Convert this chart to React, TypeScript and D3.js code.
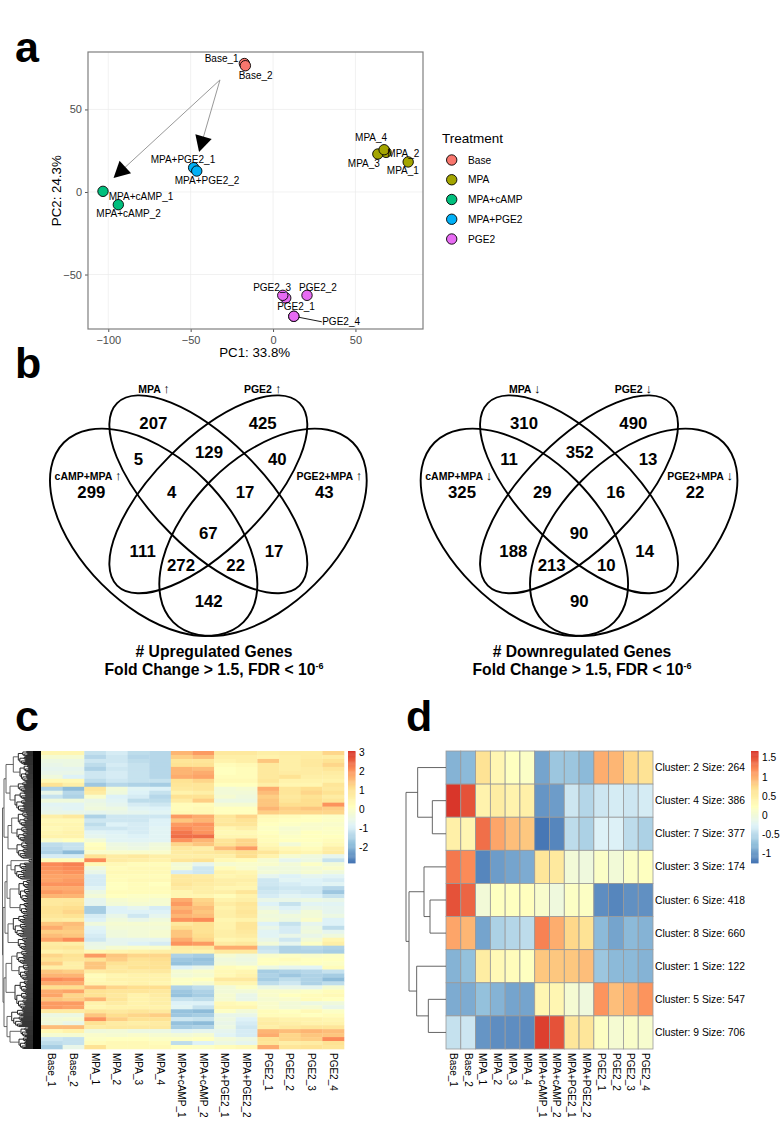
import React, { useEffect, useRef } from 'react';
import * as d3 from 'd3';

const FONT = '"Liberation Sans", Arial, sans-serif';

// panel a: PCA
const sampleNames = ['Base_1', 'Base_2', 'MPA_1', 'MPA_2', 'MPA_3', 'MPA_4', 'MPA+cAMP_1', 'MPA+cAMP_2', 'MPA+PGE2_1', 'MPA+PGE2_2', 'PGE2_1', 'PGE2_2', 'PGE2_3', 'PGE2_4'];
const pc1 = [-17.4, -16.8, 82, 68.6, 63.6, 67.4, -103.2, -93.9, -48.2, -46.3, 7.7, 20.6, 5.9, 12.6];
const pc2 = [77.8, 76.5, 18.2, 24, 23, 25.6, 0.4, -7.7, 14.7, 12.7, -64.2, -62.6, -62.6, -75.3];
const sampleGroup = [0, 0, 1, 1, 1, 1, 2, 2, 3, 3, 4, 4, 4, 4];
const labelDx = [-22.7, 10.3, -5.3, 17.3, -14, -13, 38, 10.3, -10.7, 10.3, 10.3, 11, -10.7, 47.3];
const labelDy = [-4.7, 9.3, 9, 0.7, 9.3, -12, 4.7, 9, -8.7, 9.3, 9, -8.3, -8.3, 5.7];
const treatments = ['Base', 'MPA', 'MPA+cAMP', 'MPA+PGE2', 'PGE2'];
const treatmentColors = ['#F8766D', '#A3A500', '#00BF7D', '#00B0F6', '#E76BF3'];
const pcXTicks = [-100, -50, 0, 50];
const pcYTicks = [-50, 0, 50];
const arrowFrom = [-32.2, 67.9];
const arrowTips = [[-96.8, 8.5], [-44.9, 24.2]];

// panel b: venn, count order is the same for both diagrams
const vennUp = [207, 425, 299, 5, 129, 40, 43, 4, 17, 67, 111, 17, 272, 22, 142];
const vennDown = [310, 490, 325, 11, 352, 13, 22, 29, 16, 90, 188, 14, 213, 10, 90];
const vennCountX = [400, 728, 214, 355, 567, 772, 913, 455, 675, 565, 368, 762, 483, 647, 566];
const vennCountY = [158, 158, 367, 268, 246, 268, 367, 367, 367, 488, 542, 542, 586, 586, 692];

// panel c: bands of rows read top to bottom
// columns: Base x2, MPA x4, MPA+cAMP x2, MPA+PGE2 x2, PGE2 x4
const heatCRows = [
  [.4, .4, -1.2, -1, -1.3, -1.4, 1.6, 1.9, .8, .8, .6, .7, .7, 1.2],
  [-.2, -.2, -1.4, -1.1, -1.4, -1.4, 1.3, 1.5, .6, .6, .5, .6, .7, .7],
  [-.5, -.5, -1.1, -1.1, -1.3, -1.4, .9, .9, .5, .6, 1.4, .6, .8, 1],
  [-.6, -.5, -1.3, -1, -1.2, -1.4, 1, 1, .2, .3, .8, .6, .8, 1.2],
  [-.7, -.7, -1.5, -1.1, -1.2, -1.4, 1.6, 1.5, .1, .2, .8, .6, .7, .9],
  [-.6, -.6, -1.1, -1, -1.2, -1.4, 1.6, 1.7, .1, .2, .8, .7, .7, .7],
  [-.4, -.9, -1.1, -1, -1.2, -1.4, 1.7, 1.8, .2, .2, .8, 1, .6, .6],
  [.3, .3, -1.3, -1.1, -1.2, -1.2, 1, 1.2, .3, .3, .9, .5, .5, .5],
  [1, .6, -1.7, -1.4, -1.5, -1.6, .9, .9, .1, .1, .6, .4, .4, .9],
  [-1.5, -1.9, .9, -.3, -.8, -.9, .8, .9, -.3, -.2, 1.7, .9, 1.1, .8],
  [-.6, -1.4, .7, -.4, -.9, -1.2, .5, .6, -.3, -.3, 1.5, .9, 1.2, 1],
  [-1.2, -1.5, -.1, -.9, -1, -1.4, 1, 1, -.2, -.4, 1.3, .8, 1, .7],
  [-.4, -.4, -.6, -.8, -1.3, -1.3, .7, 1.3, -.5, -.5, 1.4, .9, 1.1, .9],
  [-.8, -.8, -.5, -.7, -1, -1.1, .2, .2, -.2, -.2, 1.4, 1.1, 1.1, 2],
  [-.7, -.8, -.4, -.5, -.8, -.9, .2, .3, .1, .1, 1.6, 1.3, 1.4, 1.3],
  [-.6, -.6, -.7, -.6, -.7, -.8, .3, .3, .1, .1, 1.3, 1.2, 1.2, 1.2],
  [.6, .8, -1.5, -1.1, -1.1, -1.1, 1.9, 1.7, .9, 1.2, .3, .2, .1, 0],
  [.3, .3, -1.1, -1.1, -1.1, -.9, 1.4, 1.6, .8, 1, .2, .1, .1, 0],
  [.4, .4, -1.3, -.9, -1, -.9, 1.9, 2, .9, .9, .1, 0, -.1, -.1],
  [.3, .4, -1.1, -1.1, -1, -.8, 2.1, 1.9, .4, .6, 0, -.2, -.1, 0],
  [.4, .5, -.8, -.9, -1, -.8, 2.3, 2, .3, .3, .1, -.1, .1, 0],
  [.5, .5, -.7, -.8, -.9, -.8, 2.4, 2.4, .4, .4, .2, 0, .1, .1],
  [-.1, .1, -.3, -.8, -.8, -.8, 2, 1.6, .9, 1.2, .2, .1, .1, .2],
  [-1.3, -1.2, .1, -.5, -.6, -.4, 1.2, 1.4, 1, 1.2, .3, -.3, 0, .3],
  [-1.4, -1.2, .2, -.4, -.5, -.3, .8, .6, 1.5, 1.9, .5, .3, .2, .6],
  [-1.5, -1.9, -.1, -.1, -.1, -.1, .7, .8, .9, 1.1, .9, .5, .4, .7],
  [-1, -1, 1, .7, .8, .6, .6, .6, .6, 1.1, .5, -.2, -.4, -.7],
  [.2, .2, 2.1, .7, .6, .5, .9, 1, .3, .2, -.2, -.7, -.5, -1.2],
  [2.1, 2.2, .3, .3, .2, .2, -.3, -.7, -.2, -.1, -.1, -.3, 0, -.3],
  [2, 2.1, -.4, .2, .3, .3, -.2, -1.1, .2, -.1, -.4, -.4, -.3, -.1],
  [1.9, 2, -.6, .3, .3, .3, -1, -1.1, .5, .4, -.3, -.4, -.2, -.4],
  [1.8, 1.8, -1, .2, .2, .2, .8, .7, .4, .5, -.7, -.9, -.7, -.8],
  [1.8, 1.9, -1, .2, .3, .3, .8, .8, .6, .6, -1.1, -.8, -.9, -1],
  [2, 2, -1, .1, .2, .1, .9, .7, .6, .5, -1.1, -1, -.9, -.8],
  [1.7, 1.7, -.8, .1, .2, .2, .7, .6, .4, .4, -1.2, -1.1, -1.1, -1.4],
  [1.9, 1.8, -.5, .2, .2, .2, .4, .6, .6, .9, -1.1, -1, -1.1, -1.7],
  [1.6, 1.6, -.3, .1, 0, 0, .4, .4, .2, .5, -1, -.8, -.9, -1.2],
  [.8, .8, -.7, -.2, -.1, -.2, 1.7, 1.2, .5, .6, -.6, -.6, -.5, -.6],
  [.8, .9, -.7, -.3, -.2, -.2, 1.9, 1.3, .7, .9, -.9, -1.2, -.8, -.8],
  [1, 1.1, -1.6, -.9, -.7, -1, 1.6, 1.5, .5, .8, -.6, -.9, -.6, -.7],
  [1, 1.2, -1.6, -.9, -.9, -.9, 1.8, 1.4, .6, .9, -.3, -.7, -.3, -.7],
  [.9, 1, -1, -.6, -1.1, -.7, 1.6, 1.5, .6, .8, -.4, -.4, -.3, -.5],
  [.7, .6, -.9, -.4, -.6, -.4, 2, 2.1, .4, .5, -.3, -.5, -.1, -.9],
  [1.4, 1.5, -.4, -.2, -.2, -.2, .8, 1, .5, .9, -.9, -1.2, -.7, -.9],
  [1.7, 1.4, -.8, -.3, -.3, -.3, 1.1, 1, .5, .9, -.6, -1, -.5, -1.3],
  [1.3, 1.3, -.9, -.4, -.3, -.2, 1.4, 1, .6, .8, -.8, -1, -.4, -.7],
  [1.5, 1.4, -1, -.4, -.3, -.2, 1.4, 1.1, .6, .7, -.8, -.6, -.6, -.4],
  [1.8, 2.1, -1.1, -.7, -.7, -.7, 1.7, 1.2, .4, .5, -.6, -1.1, -.3, .4],
  [.7, .6, -.6, -.7, -.9, -1, 2, 1.9, .7, .8, -.3, -.7, 0, .6],
  [.8, .9, -.5, -.2, -.1, -.1, .7, .8, 1.7, 1.7, -1.2, -1.5, -1.4, -1.5],
  [.5, .6, .3, .4, .5, .6, .6, .5, .8, .8, -1.1, -1.5, -1.5, -1.6],
  [1.2, 1, 1.9, 1.4, 1.2, 1.2, -1.5, -1.6, -.2, -.4, -.1, 0, -.1, 0],
  [1, .9, 1, 1.3, 1, 1.1, -1.7, -1.8, -.4, -.5, .1, .2, .1, .1],
  [1.3, .6, 1.4, 1, .9, 1, -1.8, -1.7, -.3, -.4, .1, 0, .1, 0],
  [.6, .6, 1.4, .8, 1, 1, -.9, -.6, .2, .1, -.5, -.7, -.8, .2],
  [1.4, 1.3, .7, .8, .7, .8, -.2, -.1, .3, .4, -1.6, -1.5, -1.4, -1.2],
  [1.6, 1.6, .2, .4, .5, .5, -.3, -.2, .3, .5, -1.5, -1.7, -1.5, -1.6],
  [2.1, 2, .3, .5, .5, .5, 0, .1, .8, .8, -1.6, -1.3, -1.5, -1.9],
  [1.7, 1.7, .4, .4, .5, .4, 0, -.2, .4, .4, -1.3, -1.1, -1.5, -1.3],
  [1.1, 1.1, 1.5, 1.2, 1.1, 1.1, -1.5, -1.3, -.3, 0, -.5, -.6, -.7, -.2],
  [1.7, 1.8, 1, .9, .9, .8, -1.7, -1.5, -.3, -.3, -.1, -.1, 0, .2],
  [1.8, 1.2, 1, .8, .5, .7, -1.8, -1.6, -.2, -.6, -.1, .1, .2, .3],
  [1.4, 1.3, 1.6, .9, .5, .6, -1.2, -1.3, -.2, -.6, -.2, -.1, .2, .1],
  [1.9, 1.9, .5, .7, .5, .6, -.9, -.9, .3, .2, -.1, -.3, -.5, -.4],
  [1.9, 1.8, .4, .5, .5, .5, -.8, -1.2, .4, .4, -.1, -.3, -.2, -.6],
  [.7, .7, .9, .8, .9, .8, -1.8, -1.9, 0, -.3, .2, .1, .3, 0],
  [-.5, -.5, 1.4, 1.1, 1.2, 1.3, -1.7, -1.6, -.6, -.6, .2, .2, .1, .2],
  [-.3, -.2, 2, 1.3, 1, 1, -1.1, -1.2, -.5, -.9, .6, .5, .5, .4],
  [-.4, -.6, 1, .7, .6, .7, -1.8, -1.9, -.6, -1, .7, .6, .5, .5],
  [1.5, 1.5, .7, .8, .8, .8, -1.6, -1.5, -.5, -1.1, .6, .8, .9, .9],
  [.3, .5, -.4, -.3, -.5, -.5, -.8, -.7, -.7, -1, 1.6, 1.5, 1.6, 1.5],
  [-.2, -.2, -.1, -.2, -.1, -.2, -.3, -.2, -.8, -1, 1.7, 1.2, 1.4, 1.4],
  [-1.1, -1.2, 0, .1, .1, 0, 0, .1, -.3, -.5, 1, 1.2, 1.3, 2.1],
  [-1.3, -1.2, .2, .3, .3, .2, -1.3, -.9, -.5, -.7, .9, .6, .7, 1],
  [-1.6, -.6, 1, .3, .3, .3, .1, 0, .2, .3, 1.7, .9, 1, .9],
];
const heatCRange = [-2.84, 3.05];
const heatCTicks = [-2, -1, 0, 1, 2, 3];

// panel d: mean of each cluster
const clusterNames = ['Cluster: 2 Size: 264', 'Cluster: 4 Size: 386', 'Cluster: 7 Size: 377', 'Cluster: 3 Size: 174', 'Cluster: 6 Size: 418', 'Cluster: 8 Size: 660', 'Cluster: 1 Size: 122', 'Cluster: 5 Size: 547', 'Cluster: 9 Size: 706'];
const heatDRows = [
  [-.85, -.8, .65, .35, .2, .15, -.95, -.7, -.7, -.8, 1, .95, .75, .65],
  [1.65, 1.5, .4, .5, .4, .45, -1.05, -1, -.4, -.55, -.4, -.35, -.4, -.35],
  [.45, .35, 1.35, 1.05, .9, .85, -1.25, -1.15, -.5, -.6, -.3, -.3, -.5, -.6],
  [1.3, 1.2, -1.15, -1, -.95, -.9, .6, .55, 0, -.05, .15, 0, .15, .2],
  [1.5, 1.4, 0, .2, .2, .22, .1, -.05, .17, .17, -1.1, -1.15, -1.08, -1.08],
  [1.05, .95, -.95, -.6, -.55, -.5, 1.25, 1, .75, .65, -.8, -.95, -.8, -.85],
  [-.85, -.75, .5, .3, .25, .2, .85, .85, .85, .9, -.7, -.8, -.8, -.85],
  [-.9, -.9, -.75, -.85, -.95, -.95, .35, .35, .05, -.05, 1.15, .9, 1, 1.15],
  [-.45, -.4, -1.05, -1.1, -1.1, -1.12, 1.6, 1.5, .6, .6, .18, .05, .12, .08],
];
const heatDRange = [-1.26, 1.68];
const heatDTicks = [-1, -0.5, 0, 0.5, 1, 1.5];

const heatColors = ['#4575B4', '#91BFDB', '#E0F3F8', '#FFFFBF', '#FEE090', '#FC8D59', '#D73027'];

// dendrograms: [height, left, right], a number is a row index
const treeD: any = [120,
  [85, 0, [41, 1, 2]],
  [111, [66, 3, [48, 4, 5]], [88, 6, [53, 7, 8]]],
];
// [height, rowCount] is a tight bundle of genes
const treeC: any = [38.5,
  [37,
    [35,
      [27.7, [22.7, 14], [21, 17]],
      [31, [22.7, 10], [26, 20]],
    ],
    [33, [29.3, [22.7, 15], [24, 15]], [24, 17]],
  ],
  [38,
    [36,
      [34, [30, [12, 4], [26, 17]], [31, [22, 23], [21, 12]]],
      [33, [27.7, 23], [22.7, 13]],
    ],
    [37,
      [35, [29.3, [24, 14], [22, 16]], [26, 29]],
      [34, [29.3, 18], [31, [20, 10], [22, 12]]],
    ],
  ],
];

function countLeaves(n: any): number {
  if (n.length === 2) return n[1];
  return countLeaves(n[1]) + countLeaves(n[2]);
}

export default function App() {
  const ref = useRef<SVGSVGElement>(null);

  useEffect(() => {
    const svg = d3.select(ref.current);
    svg.selectAll('*').remove();
    svg.append('rect').attr('width', 783).attr('height', 1125).attr('fill', 'white');

    // panel letters
    const letters: [string, number, number][] = [['a', 15, 62], ['b', 15, 378], ['c', 15, 731], ['d', 406, 731]];
    letters.forEach(l => {
      svg.append('text').attr('x', l[1]).attr('y', l[2]).attr('font-size', 43).attr('font-weight', 'bold').text(l[0]);
    });

    drawPca(svg);
    drawVenn(svg, 20, vennUp, '\u2191', '# Upregulated Genes', 214);
    drawVenn(svg, 390.7, vennDown, '\u2193', '# Downregulated Genes', 582);
    drawHeatC(svg);
    drawHeatD(svg);
  }, []);

  return <svg ref={ref} width={783} height={1125} style={{ position: 'absolute', left: 0, top: 0, fontFamily: FONT }} />;
}

function drawPca(svg: any) {
  const margin = { top: 52, right: 360, bottom: 796, left: 88 };
  const x = d3.scaleLinear().domain([-112.3, 91]).range([margin.left, 783 - margin.right]);
  const y = d3.scaleLinear().domain([-83, 84.8]).range([1125 - margin.bottom, margin.top]);

  const g = svg.append('g');
  const grid = g.append('g').attr('stroke', '#ebebeb').attr('stroke-width', 0.7);
  pcXTicks.forEach(t => grid.append('line').attr('x1', x(t)).attr('x2', x(t)).attr('y1', y.range()[0]).attr('y2', y.range()[1]));
  pcYTicks.forEach(t => grid.append('line').attr('y1', y(t)).attr('y2', y(t)).attr('x1', x.range()[0]).attr('x2', x.range()[1]));

  const xAxis = g.append('g').attr('transform', `translate(0,${y.range()[0]})`)
    .call(d3.axisBottom(x).tickValues(pcXTicks).tickSize(3).tickPadding(4).tickFormat(d3.format('d')));
  const yAxis = g.append('g').attr('transform', `translate(${x.range()[0]},0)`)
    .call(d3.axisLeft(y).tickValues(pcYTicks).tickSize(3).tickPadding(3).tickFormat(d3.format('d')));
  [xAxis, yAxis].forEach(a => {
    a.select('.domain').remove();
    a.selectAll('line').attr('stroke', '#555');
    a.selectAll('text').attr('fill', '#4d4d4d').attr('font-size', 11).attr('font-family', FONT);
  });

  g.append('rect').attr('x', x.range()[0]).attr('y', y.range()[1])
    .attr('width', x.range()[1] - x.range()[0]).attr('height', y.range()[0] - y.range()[1])
    .attr('fill', 'none').attr('stroke', '#7f7f7f').attr('stroke-width', 1.2);

  g.append('text').attr('x', 254.7).attr('y', 356.5).attr('text-anchor', 'middle').attr('font-size', 13.3).text('PC1: 33.8%');
  g.append('text').attr('transform', 'translate(61,190.7) rotate(-90)').attr('text-anchor', 'middle').attr('font-size', 13.3).text('PC2: 24.3%');

  // arrows
  arrowTips.forEach(tip => {
    const x0 = x(arrowFrom[0]), y0 = y(arrowFrom[1]), x1 = x(tip[0]), y1 = y(tip[1]);
    const len = Math.hypot(x1 - x0, y1 - y0);
    const ux = (x1 - x0) / len, uy = (y1 - y0) / len;
    g.append('line').attr('x1', x0).attr('y1', y0).attr('x2', x1 - ux * 10).attr('y2', y1 - uy * 10).attr('stroke', '#999').attr('stroke-width', 1);
    const bx = x1 - ux * 16, by = y1 - uy * 16;
    g.append('path').attr('fill', 'black')
      .attr('d', `M${x1},${y1}L${bx - uy * 8.5},${by + ux * 8.5}L${bx + uy * 8.5},${by - ux * 8.5}Z`);
  });

  sampleNames.forEach((name, i) => {
    g.append('circle').attr('cx', x(pc1[i])).attr('cy', y(pc2[i])).attr('r', 5.2)
      .attr('fill', treatmentColors[sampleGroup[i]]).attr('stroke', 'black').attr('stroke-width', 0.9);
  });
  // PGE2_4 sits away from its point
  const last = sampleNames.length - 1;
  g.append('line').attr('x1', x(pc1[last])).attr('y1', y(pc2[last])).attr('x2', x(pc1[last]) + 28).attr('y2', y(pc2[last]) + 5.5).attr('stroke', 'black').attr('stroke-width', 0.9);
  g.append('circle').attr('cx', x(pc1[last])).attr('cy', y(pc2[last])).attr('r', 5.2)
    .attr('fill', treatmentColors[sampleGroup[last]]).attr('stroke', 'black').attr('stroke-width', 0.9);
  sampleNames.forEach((name, i) => {
    g.append('text').attr('x', x(pc1[i]) + labelDx[i]).attr('y', y(pc2[i]) + labelDy[i] + 3.5)
      .attr('text-anchor', 'middle').attr('font-size', 10).text(name);
  });

  // legend
  g.append('text').attr('x', 442).attr('y', 142.7).attr('font-size', 13.5).text('Treatment');
  const legendY = d3.scalePoint().domain(treatments).range([160, 239]);
  treatments.forEach((t, i) => {
    g.append('circle').attr('cx', 451.7).attr('cy', legendY(t)).attr('r', 5.2).attr('fill', treatmentColors[i]).attr('stroke', 'black').attr('stroke-width', 0.9);
    g.append('text').attr('x', 468).attr('y', legendY(t)! + 3.5).attr('font-size', 10.2).text(t);
  });
}

function drawVenn(svg: any, left: number, counts: number[], arrow: string, title: string, titleX: number) {
  // the venn geometry is laid out at 3x and scaled down
  const g = svg.append('g').attr('font-weight', 'bold').attr('text-anchor', 'middle');
  const zx = d3.scaleLinear().domain([0, 3]).range([left, left + 1]);
  const zy = d3.scaleLinear().domain([0, 3]).range([370, 371]);

  const axis = 565;
  const outer = { dx: 164, cy: 487, a: 381, b: 220 };
  const inner = { dx: 0, cy: 373, a: 387, b: 163 };
  const shapes = [
    { cx: axis - outer.dx, ...outer, rot: 45 },
    { cx: axis - inner.dx, ...inner, rot: 45 },
    { cx: axis + inner.dx, ...inner, rot: -45 },
    { cx: axis + outer.dx, ...outer, rot: -45 },
  ];
  shapes.forEach(s => {
    g.append('ellipse')
      .attr('transform', `translate(${zx(s.cx)},${zy(s.cy)}) rotate(${s.rot})`)
      .attr('rx', s.a / 3).attr('ry', s.b / 3)
      .attr('fill', 'none').attr('stroke', 'black').attr('stroke-width', 1.9);
  });

  counts.forEach((c, i) => {
    g.append('text').attr('x', zx(vennCountX[i])).attr('y', zy(vennCountY[i]) + 6)
      .attr('font-size', 16.8).text(c);
  });

  const setNames = ['MPA', 'PGE2', 'cAMP+MPA', 'PGE2+MPA'];
  const setX = [402, 728, 204, 928];
  const setY = [68, 68, 330, 330];
  setNames.forEach((n, i) => {
    const t = g.append('text').attr('x', zx(setX[i])).attr('y', zy(setY[i])).attr('font-size', 10.5);
    t.append('tspan').text(`${n} `);
    t.append('tspan').attr('font-size', 13).text(arrow);
  });

  g.append('text').attr('x', titleX).attr('y', 657).attr('font-size', 15.7).text(title);
  const t2 = g.append('text').attr('x', titleX).attr('y', 675).attr('font-size', 15.7);
  t2.append('tspan').text('Fold Change > 1.5, FDR < 10');
  t2.append('tspan').attr('font-size', 9).attr('dy', -6).text('-6');
}

function heatColor(range: number[]) {
  const step = d3.scaleLinear().domain([0, heatColors.length - 1]).range(range);
  return d3.scaleLinear<string>().domain(heatColors.map((c, i) => step(i))).range(heatColors).clamp(true);
}

function drawColorBar(svg: any, x0: number, range: number[], ticks: number[]) {
  const color = heatColor(range);
  const y = d3.scaleLinear().domain(range).range([863, 751]);
  const steps = d3.range(100).map(i => range[0] + (i / 100) * (range[1] - range[0]));
  const h = 112 / 100;
  svg.append('g').selectAll('rect').data(steps).join('rect')
    .attr('x', x0).attr('width', 7.5)
    .attr('y', (d: number) => y(d) - h).attr('height', h + 0.4)
    .attr('fill', (d: number) => color(d));
  ticks.forEach(t => {
    svg.append('text').attr('x', x0 + 11).attr('y', y(t) + 3.6).attr('font-size', 10.2).text(t);
  });
}

function drawColLabels(g: any, x: any) {
  sampleNames.forEach(n => {
    g.append('text')
      .attr('transform', `translate(${x(n)! + x.bandwidth() / 2 - 3.5},1053) rotate(90)`)
      .attr('font-size', 10).text(n);
  });
}

function drawHeatC(svg: any) {
  const x = d3.scaleBand().domain(sampleNames).range([41, 344]);
  const y = d3.scaleBand().domain(d3.range(heatCRows.length).map(String)).range([751, 1049]);
  const color = heatColor(heatCRange);
  const g = svg.append('g');
  heatCRows.forEach((row, r) => {
    row.forEach((v, c) => {
      g.append('rect').attr('x', x(sampleNames[c])).attr('y', y(String(r)))
        .attr('width', x.bandwidth() + 0.3).attr('height', y.bandwidth() + 0.3)
        .attr('fill', color(v));
    });
  });
  drawColLabels(g, x);
  drawColorBar(svg, 348, heatCRange, heatCTicks);

  // row dendrogram
  const total = countLeaves(treeC);
  const rowY = d3.scaleLinear().domain([0, total]).range([751, 1049]);
  const hx = d3.scaleLinear().domain([0, 39]).range([41, 2]);
  const path = d3.path();
  const hairs = d3.path();
  let cursor = 0;

  const link = (p: any, h: number, a: any, b: any) => {
    const xh = hx(h);
    p.moveTo(a.x, a.y); p.lineTo(xh, a.y); p.lineTo(xh, b.y); p.lineTo(b.x, b.y);
    return { x: xh, y: (a.y + b.y) / 2 };
  };
  // a bundle of n genes fans out below height h
  const fan = (h: number, n: number): any => {
    if (n === 1) {
      const p = { x: hx(0), y: rowY(cursor + 0.5) };
      cursor += 1;
      return p;
    }
    const first = Math.max(1, Math.round(n * 0.4));
    const a = fan(h * 0.8, first);
    const b = fan(h * 0.93, n - first);
    return link(hairs, h, a, b);
  };
  const walk = (node: any): any => {
    if (node.length === 2) return fan(node[0], node[1]);
    const a = walk(node[1]);
    const b = walk(node[2]);
    return link(path, node[0], a, b);
  };
  walk(treeC);
  svg.append('path').attr('d', hairs.toString()).attr('fill', 'none').attr('stroke', '#111').attr('stroke-width', 0.9);
  svg.append('path').attr('d', path.toString()).attr('fill', 'none').attr('stroke', '#555').attr('stroke-width', 0.9);
  svg.append('rect').attr('x', 33).attr('y', 751).attr('width', 8).attr('height', 298).attr('fill', 'black');
}

function drawHeatD(svg: any) {
  const x = d3.scaleBand().domain(sampleNames).range([446, 653]);
  const y = d3.scaleBand().domain(clusterNames).range([751, 1049]);
  const color = heatColor(heatDRange);
  const g = svg.append('g');
  heatDRows.forEach((row, r) => {
    row.forEach((v, c) => {
      g.append('rect').attr('x', x(sampleNames[c])).attr('y', y(clusterNames[r]))
        .attr('width', x.bandwidth()).attr('height', y.bandwidth())
        .attr('fill', color(v)).attr('stroke', '#999').attr('stroke-width', 0.8);
    });
  });
  clusterNames.forEach(n => {
    g.append('text').attr('x', 655).attr('y', y(n)! + y.bandwidth() / 2 + 3.6).attr('font-size', 10.3).text(n);
  });
  drawColLabels(g, x);
  drawColorBar(svg, 751, heatDRange, heatDTicks);

  const hx = d3.scaleLinear().domain([0, 120]).range([446, 406]);
  const path = d3.path();
  const walk = (node: any): any => {
    if (typeof node === 'number') return { x: hx(0), y: y(clusterNames[node])! + y.bandwidth() / 2 };
    const a = walk(node[1]);
    const b = walk(node[2]);
    const xh = hx(node[0]);
    path.moveTo(a.x, a.y); path.lineTo(xh, a.y); path.lineTo(xh, b.y); path.lineTo(b.x, b.y);
    return { x: xh, y: (a.y + b.y) / 2 };
  };
  walk(treeD);
  svg.append('path').attr('d', path.toString()).attr('fill', 'none').attr('stroke', '#555').attr('stroke-width', 0.9);
}
